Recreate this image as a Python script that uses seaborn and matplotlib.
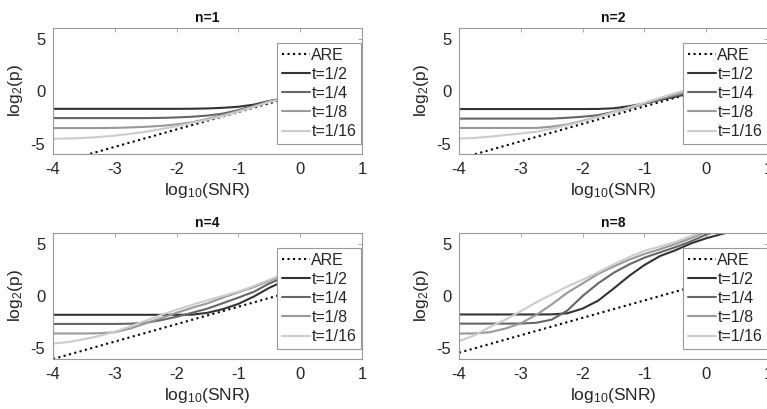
import matplotlib
matplotlib.use('Agg')
import numpy as np
import pandas as pd
import matplotlib.pyplot as plt
import seaborn as sns

log_snr = [-4, -3.75, -3.5, -3.25, -3, -2.75, -2.5, -2.25, -2, -1.75, -1.5,
           -1.25, -1, -0.75, -0.5, -0.25, 0, 0.25, 0.5, 0.75, 1]

t_labels = ['t=1/2', 't=1/4', 't=1/8', 't=1/16']
t_colors = ['#333333', '#666666', '#999999', '#cccccc']
panel_titles = ['n=1', 'n=2', 'n=4', 'n=8']

# ARE straight line, end points at log10(SNR) = -4 and 1
are_x = [-4, 1]
are_n1 = [-6.98, 1.32]
are_n2 = [-6.45, 1.85]
are_n4 = [-6.0, 2.3]
are_n8 = [-5.4, 2.9]

# log2(p), n=1
n1_t2 = [-1.7, -1.7, -1.7, -1.7, -1.7, -1.7, -1.7, -1.7, -1.7, -1.69, -1.66,
         -1.6, -1.5, -1.3, -0.95, -0.7, -0.45, -0.25, -0.12, -0.04, 0.0]
n1_t4 = [-2.58, -2.58, -2.58, -2.58, -2.58, -2.58, -2.58, -2.56, -2.52, -2.45, -2.34,
         -2.15, -1.82, -1.4, -0.97, -0.7, -0.45, -0.25, -0.12, -0.04, 0.0]
n1_t8 = [-3.53, -3.53, -3.53, -3.53, -3.51, -3.47, -3.41, -3.32, -3.18, -2.98, -2.66,
         -2.3, -1.9, -1.47, -1.0, -0.7, -0.45, -0.25, -0.12, -0.04, 0.0]
n1_t16 = [-4.54, -4.52, -4.47, -4.38, -4.25, -4.08, -3.88, -3.63, -3.35, -3.03, -2.74,
          -2.38, -1.96, -1.52, -1.05, -0.7, -0.45, -0.25, -0.12, -0.04, 0.0]

# log2(p), n=2
n2_t2 = [-1.72, -1.72, -1.72, -1.72, -1.72, -1.72, -1.72, -1.72, -1.72, -1.71, -1.65,
         -1.45, -1.2, -0.85, -0.55, -0.2, 0.2, 0.6, 0.95, 1.2, 1.3]
n2_t4 = [-2.63, -2.63, -2.63, -2.63, -2.63, -2.63, -2.63, -2.55, -2.45, -2.3, -2.0,
         -1.65, -1.2, -0.8, -0.45, -0.1, 0.3, 0.7, 1.0, 1.2, 1.3]
n2_t8 = [-3.52, -3.52, -3.52, -3.52, -3.52, -3.52, -3.4, -3.18, -2.85, -2.45, -1.98,
         -1.55, -1.15, -0.72, -0.35, 0.0, 0.4, 0.75, 1.05, 1.22, 1.3]
n2_t16 = [-4.53, -4.47, -4.35, -4.2, -4.05, -3.88, -3.6, -3.25, -2.9, -2.48, -2.05,
          -1.6, -1.12, -0.65, -0.2, 0.2, 0.55, 0.85, 1.1, 1.25, 1.32]

# log2(p), n=4
n4_t2 = [-1.79, -1.79, -1.79, -1.79, -1.79, -1.79, -1.79, -1.79, -1.79, -1.78, -1.6,
         -1.25, -0.75, -0.05, 0.78, 1.45, 2.0, 2.45, 2.75, 2.95, 3.05]
n4_t4 = [-2.66, -2.66, -2.66, -2.66, -2.66, -2.64, -2.55, -2.3, -1.98, -1.6, -1.2,
         -0.68, -0.15, 0.4, 1.2, 1.8, 2.35, 2.75, 3.0, 3.15, 3.2]
n4_t8 = [-3.57, -3.57, -3.57, -3.55, -3.45, -3.1, -2.6, -2.1, -1.6, -1.12, -0.7,
         -0.15, 0.35, 0.85, 1.45, 2.0, 2.5, 2.85, 3.1, 3.25, 3.3]
n4_t16 = [-4.54, -4.38, -4.12, -3.8, -3.4, -2.9, -2.35, -1.8, -1.3, -0.85, -0.4,
          0.0, 0.42, 0.95, 1.55, 2.15, 2.7, 3.05, 3.25, 3.35, 3.4]

# log2(p), n=8
n8_t2 = [-1.76, -1.76, -1.76, -1.76, -1.76, -1.76, -1.75, -1.65, -1.2, -0.45, 0.7,
         1.9, 2.95, 3.8, 4.35, 5.0, 5.5, 5.9, 6.3, 6.6, 6.9]
n8_t4 = [-2.63, -2.63, -2.63, -2.63, -2.62, -2.55, -2.25, -1.4, 0.0, 1.2, 2.2,
         3.0, 3.65, 4.15, 4.65, 5.2, 5.85, 6.3, 6.7, 7.0, 7.3]
n8_t8 = [-3.57, -3.57, -3.45, -3.1, -2.6, -1.8, -0.8, 0.3, 1.2, 2.1, 2.8,
         3.45, 4.0, 4.45, 4.95, 5.5, 6.1, 6.6, 7.0, 7.3, 7.6]
n8_t16 = [-4.3, -3.75, -2.95, -2.25, -1.45, -0.6, 0.15, 0.9, 1.55, 2.25, 3.0,
          3.7, 4.3, 4.7, 5.15, 5.7, 6.2, 6.6, 7.0, 7.3, 7.6]

panels = [
    (are_n1, [n1_t2, n1_t4, n1_t8, n1_t16]),
    (are_n2, [n2_t2, n2_t4, n2_t8, n2_t16]),
    (are_n4, [n4_t2, n4_t4, n4_t8, n4_t16]),
    (are_n8, [n8_t2, n8_t4, n8_t8, n8_t16]),
]

sns.set_style('white')
plt.rcParams['font.family'] = ['Liberation Sans', 'DejaVu Sans']
plt.rcParams['mathtext.default'] = 'regular'
plt.rcParams['axes.unicode_minus'] = False

fig = plt.figure(figsize=(7.67, 4.09), dpi=100)

# axes boxes in pixels (left, top) of the 767x409 picture, right column runs off the edge
W, H = 767.0, 409.0
ax_w, ax_h = 309, 126
lefts = [53, 459, 53, 459]
tops = [28, 28, 233, 233]

for i, (are_y, curves) in enumerate(panels):
    ax = fig.add_axes([lefts[i] / W, 1 - (tops[i] + ax_h) / H, ax_w / W, ax_h / H])
    sns.lineplot(x=are_x, y=are_y, ax=ax, color='black', linestyle=':',
                 linewidth=1.5, label='ARE')
    for vals, lab, col in zip(curves, t_labels, t_colors):
        df = pd.DataFrame({'snr': log_snr, 'p': vals})
        sns.lineplot(data=df, x='snr', y='p', ax=ax, color=col, linewidth=1.5,
                     label=lab, estimator=None)
    ax.set_xlim(-4, 1)
    ax.set_ylim(-6, 6)
    ax.set_xticks([-4, -3, -2, -1, 0, 1])
    ax.set_yticks([-5, 0, 5])
    ax.tick_params(direction='in', length=3, width=0.6, color='#999999',
                   labelsize=12, labelcolor='#262626', top=True, right=True,
                   pad=5.5)
    for s in ax.spines.values():
        s.set_color('#999999')
        s.set_linewidth(0.8)
    ax.set_xlabel('log$_{10}$(SNR)', fontsize=12.5, color='#262626', labelpad=3)
    ax.set_ylabel('log$_2$(p)', fontsize=12.5, color='#262626', labelpad=4)
    ax.set_title(panel_titles[i], fontsize=10, fontweight='bold', color='#111111', pad=4)
    leg = ax.legend(loc='upper right', bbox_to_anchor=(0.997, 0.883), fontsize=11.5,
                    frameon=True, fancybox=False, framealpha=1, edgecolor='#999999',
                    handlelength=1.75, handletextpad=0.1, labelspacing=0.26,
                    borderpad=0.3, borderaxespad=0)
    leg.get_frame().set_linewidth(0.8)

fig.savefig('out.png', dpi=100)
